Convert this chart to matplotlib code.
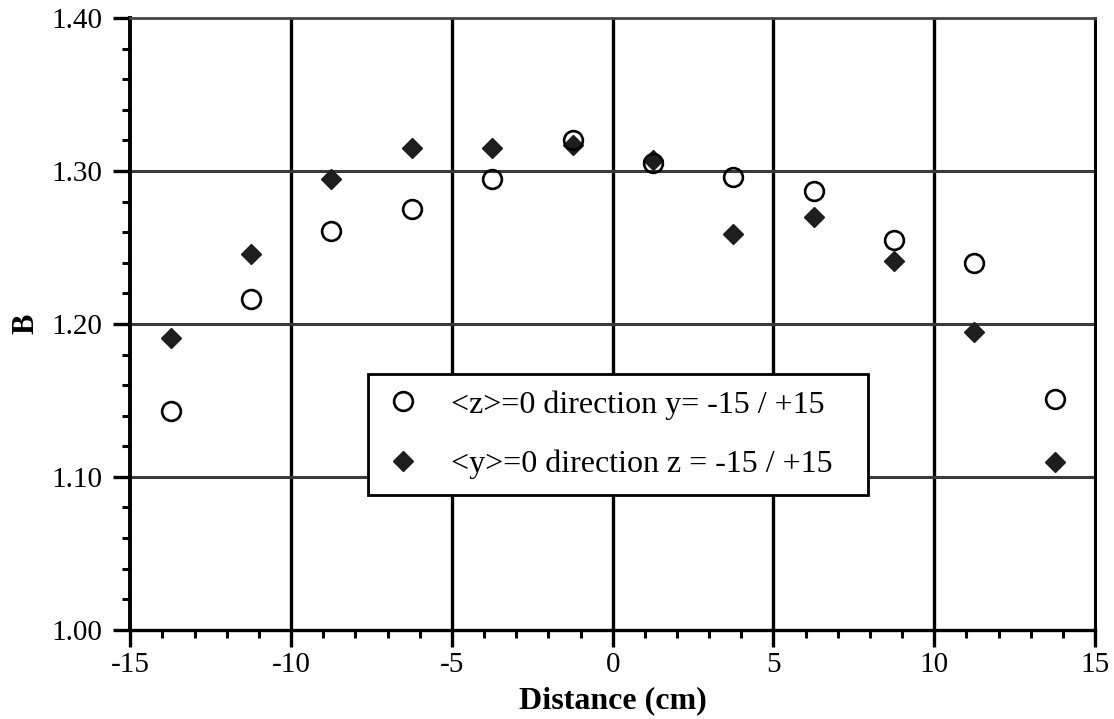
import numpy as np
import matplotlib
matplotlib.use("Agg")
from matplotlib import pyplot as plt
from matplotlib.ticker import MultipleLocator, FormatStrFormatter

plt.rcParams['font.family'] = ['Liberation Serif', 'DejaVu Serif']
plt.rcParams['axes.unicode_minus'] = False

# data
x_pos = [-13.75, -11.25, -8.75, -6.25, -3.75, -1.25, 1.25, 3.75, 6.25, 8.75, 11.25, 13.75]
b_z0 = [1.143, 1.216, 1.261, 1.275, 1.295, 1.320, 1.305, 1.296, 1.287, 1.255, 1.240, 1.151]
b_y0 = [1.191, 1.246, 1.295, 1.315, 1.315, 1.317, 1.307, 1.259, 1.270, 1.241, 1.195, 1.110]
label_z0 = "<z>=0 direction y= -15 / +15"
label_y0 = "<y>=0 direction z = -15 / +15"

fig = plt.figure(figsize=(11.14, 7.19), dpi=100)
ax = fig.add_axes([0.117, 0.124, 0.866, 0.851])

# grid
for xv in [-10, -5, 0, 5, 10]:
    ax.axvline(xv, color='black', lw=2.4, zorder=1)
for yv in [1.10, 1.20, 1.30]:
    ax.axhline(yv, color='#3a3a3a', lw=2.2, zorder=1)

ax.plot(x_pos, b_y0, linestyle='none', marker='D', markersize=10.5,
        color='#1e1e1e', markeredgecolor='#1e1e1e', label=label_y0, zorder=3)
ax.plot(x_pos, b_z0, linestyle='none', marker='o', markersize=13.5,
        markerfacecolor='none', markeredgecolor='black', markeredgewidth=1.9,
        label=label_z0, zorder=4)

ax.set_xlim(-15, 15)
ax.set_ylim(1.00, 1.40)
ax.xaxis.set_major_locator(MultipleLocator(5))
ax.xaxis.set_minor_locator(MultipleLocator(1))
ax.yaxis.set_major_locator(MultipleLocator(0.1))
ax.yaxis.set_minor_locator(MultipleLocator(0.02))
ax.yaxis.set_major_formatter(FormatStrFormatter('%.2f'))

ax.tick_params(which='major', direction='out', length=12, width=2.4,
               labelsize=21)
ax.tick_params(axis='x', which='major', pad=4)
ax.tick_params(axis='y', which='major', pad=8)
ax.tick_params(which='minor', direction='out', length=6, width=2.2)

ax.spines['left'].set_linewidth(2.8)
ax.spines['bottom'].set_linewidth(2.4)
ax.spines['right'].set_linewidth(2.2)
ax.spines['top'].set_linewidth(2.0)
ax.spines['top'].set_color('#444444')

ax.set_xlabel('Distance (cm)', fontsize=23, fontweight='bold', labelpad=6)
ax.set_ylabel('B', fontsize=22, fontweight='bold', labelpad=8)

# legend box spans a fixed width, like the original
handles, labels = ax.get_legend_handles_labels()
leg = ax.legend(handles[::-1], labels[::-1], loc='upper left', mode='expand',
                bbox_to_anchor=(0.246, 0.0, 0.519, 0.418), fontsize=23,
                frameon=True, fancybox=False, framealpha=1, edgecolor='black',
                borderpad=0.5, handletextpad=0.9, labelspacing=0.95,
                handlelength=1.2, borderaxespad=0)
leg.get_frame().set_linewidth(2)

fig.savefig('out.png', dpi=100)
